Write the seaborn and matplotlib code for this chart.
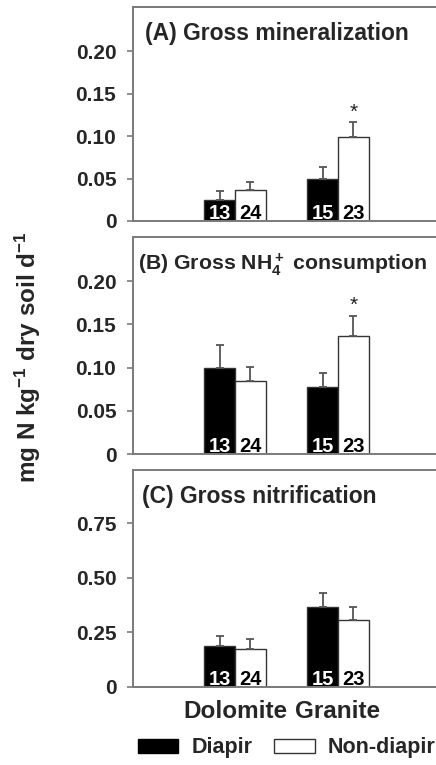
import numpy as np
import pandas as pd
import matplotlib
matplotlib.use("Agg")
import matplotlib.pyplot as plt
import seaborn as sns
from matplotlib.patches import Patch
from matplotlib.container import BarContainer

sns.set_theme(style="white")
plt.rcParams['font.family'] = ['Liberation Sans', 'DejaVu Sans']
plt.rcParams['font.weight'] = 'bold'
plt.rcParams['mathtext.fontset'] = 'custom'
plt.rcParams['mathtext.rm'] = 'Liberation Sans:bold'
plt.rcParams['mathtext.bf'] = 'Liberation Sans:bold'
plt.rcParams['mathtext.default'] = 'bf'

# ---- data ----
sites = ["Dolomite", "Granite"]
types = ["Diapir", "Non-diapir"]
n_diapir = [13, 15]
n_nondiapir = [24, 23]

min_diapir = [0.025, 0.049]
min_diapir_se = [0.010, 0.015]
min_non = [0.036, 0.0985]
min_non_se = [0.0095, 0.0175]

nh4_diapir = [0.100, 0.077]
nh4_diapir_se = [0.026, 0.017]
nh4_non = [0.085, 0.136]
nh4_non_se = [0.016, 0.024]

nit_diapir = [0.188, 0.367]
nit_diapir_se = [0.046, 0.066]
nit_non = [0.174, 0.306]
nit_non_se = [0.045, 0.063]

titles = ["(A) Gross mineralization",
          r"(B) Gross NH$_4^+$ consumption",
          "(C) Gross nitrification"]
yticks_list = [[0, 0.05, 0.10, 0.15, 0.20],
               [0, 0.05, 0.10, 0.15, 0.20],
               [0, 0.25, 0.50, 0.75]]
yticklabels_list = [["0", "0.05", "0.10", "0.15", "0.20"],
                    ["0", "0.05", "0.10", "0.15", "0.20"],
                    ["0", "0.25", "0.50", "0.75"]]
ylims = [0.252, 0.251, 0.995]
stars = [[False, True], [False, True], [False, False]]  # on Non-diapir bars

panels = [
    (min_diapir, min_diapir_se, min_non, min_non_se),
    (nh4_diapir, nh4_diapir_se, nh4_non, nh4_non_se),
    (nit_diapir, nit_diapir_se, nit_non, nit_non_se),
]

W, H = 436, 765
fig = plt.figure(figsize=(W / 100, H / 100), dpi=100)

boxes = [(133, 7, 221), (133, 237, 454), (133, 470, 687)]
title_dx = [12, 5, 9]
title_fs = [16.5, 15.3, 16.5]
right_px = 445
spine_col = "#7a7a7a"
err_col = "#555555"

for i, (d, dse, nd, ndse) in enumerate(panels):
    left, top, bottom = boxes[i]
    ax = fig.add_axes([left / W, 1 - bottom / H, (right_px - left) / W, (bottom - top) / H])
    df = pd.DataFrame({
        "site": sites * 2,
        "type": [types[0]] * 2 + [types[1]] * 2,
        "value": list(d) + list(nd),
    })
    sns.barplot(data=df, x="site", y="value", hue="type", hue_order=types,
                order=sites, palette=["black", "white"], width=0.6,
                errorbar=None, legend=False, ax=ax, saturation=1,
                linewidth=1.0, edgecolor="#333333")
    errs = [dse, ndse]
    ns = [n_diapir, n_nondiapir]
    bar_conts = [c for c in ax.containers if isinstance(c, BarContainer)]
    for k, cont in enumerate(bar_conts):
        for j, patch in enumerate(cont.patches):
            xc = patch.get_x() + patch.get_width() / 2
            h = patch.get_height()
            e = errs[k][j]
            ax.errorbar(xc, h, yerr=[[0], [e]], fmt="none", ecolor=err_col,
                        elinewidth=1.3, capsize=3, capthick=1.3, zorder=1)
            ax.annotate(str(ns[k][j]), xy=(xc, 0), xytext=(0, 2),
                        textcoords="offset pixels", ha="center", va="baseline",
                        fontsize=14.5, fontweight="bold",
                        color="white" if k == 0 else "black")
            if k == 1 and stars[i][j]:
                ax.annotate("*", xy=(xc, h + e), xytext=(0, 5),
                            textcoords="offset pixels", ha="center", va="baseline",
                            fontsize=15, fontweight="normal", color="#222222")
    ax.set_xlim(-0.99, 2.039)
    ax.set_ylim(0, ylims[i])
    ax.set_yticks(yticks_list[i])
    ax.set_yticklabels(yticklabels_list[i], fontsize=15, fontweight="bold")
    ax.tick_params(axis="y", left=True, length=4, width=1.2, color=spine_col,
                   pad=8, direction="out")
    ax.set_xlabel("")
    ax.set_ylabel("")
    if i == 2:
        ax.set_xticks([0, 1])
        ax.set_xticklabels(sites, fontsize=17.5, fontweight="bold")
        ax.tick_params(axis="x", bottom=False, length=0, pad=9)
    else:
        ax.set_xticks([])
    for s in ["left", "top", "bottom", "right"]:
        ax.spines[s].set_color(spine_col)
        ax.spines[s].set_linewidth(1.4)
    ax.annotate(titles[i], xy=(0, 1), xycoords="axes fraction",
                xytext=(title_dx[i], -33), textcoords="offset pixels",
                ha="left", va="baseline", fontsize=title_fs[i], fontweight="bold")

fig.text(28 / W, 1 - 357 / H, r"mg N kg$^{-1}$ dry soil d$^{-1}$", rotation=90,
         ha="center", va="center", fontsize=17.5, fontweight="bold")

handles = [Patch(facecolor="black", edgecolor="black", label="Diapir"),
           Patch(facecolor="white", edgecolor="#333333", linewidth=1.0, label="Non-diapir")]
fig.legend(handles=handles, loc="center", bbox_to_anchor=(286.5 / W, 1 - 748 / H),
           ncol=2, frameon=False, prop={"size": 15.5, "weight": "bold"},
           handlelength=1.9, handleheight=0.6, handletextpad=0.6,
           columnspacing=1.0, borderpad=0)

fig.savefig("out.png", dpi=100)
